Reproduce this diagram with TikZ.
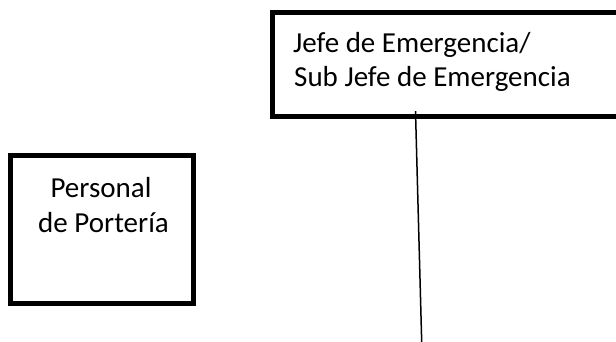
\documentclass[tikz,border=0pt]{standalone}
\usepackage{fontspec}
\setmainfont{Carlito}
\usetikzlibrary{calc}
\begin{document}
\begin{tikzpicture}[x=1pt,y=-1pt,
  box/.style={draw=black,line width=5pt,rectangle,inner sep=0pt,fill=none},
  frame/.style={draw=black,line width=5pt,line join=miter,line cap=butt},
  lbl/.style={inner sep=0pt,font=\fontsize{29}{35}\selectfont},
  conn/.style={draw=black,line width=1.5pt}]
\useasboundingbox (0,0) rectangle (616,342);
\node[rectangle,inner sep=0pt,minimum width=343pt,minimum height=103.5pt] (boss) at (444.5,64.25) {};
\draw[frame] (boss.north east) -- (boss.north west) -- (boss.south west) -- (boss.south east);
\node[lbl,anchor=base west] (bossA) at (293,53) {Jefe de Emergencia/};
\node[lbl,anchor=base west] (bossB) at (294,87) {Sub Jefe de Emergencia};
\node[box,minimum width=183pt,minimum height=147pt] (port) at (101.5,229.5) {};
\node[lbl,anchor=base] (portA) at (101,197) {Personal};
\node[lbl,anchor=base] (portB) at (103.5,232) {de Portería};
\coordinate (lend) at (421.7,342);
\draw[conn] ($(boss.south west)+(142.7,-5)$) -- (lend);
\end{tikzpicture}
\end{document}
